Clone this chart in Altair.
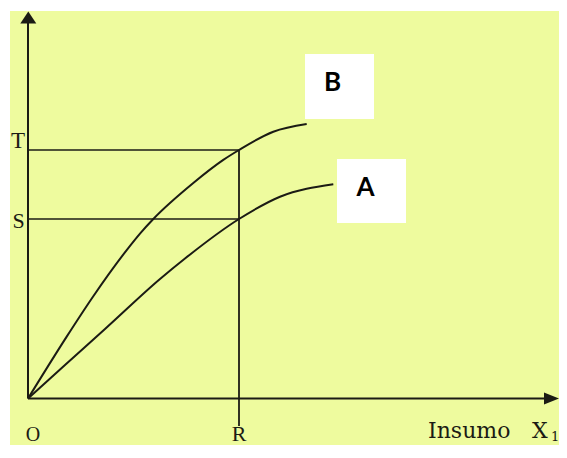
import altair as alt
import pandas as pd

# ---- data (units: tenths of a pixel-grid measured from origin O) ----
curve_b_x = [0.0, 3.87, 6.53, 9.87, 11.2, 12.53, 16.53, 19.53, 21.1, 24.53, 27.87]
curve_b_y = [0.0, 6.19, 10.23, 14.84, 16.49, 17.95, 21.55, 23.86, 24.85, 26.68, 27.45]
curve_a_x = [0.0, 3.7, 7.7, 13.2, 15.7, 21.1, 25.2, 30.53]
curve_a_y = [0.0, 3.35, 6.95, 11.95, 14.0, 17.95, 20.18, 21.42]

R_VAL = 21.1
T_VAL = 24.85
S_VAL = 17.95

tick_labels = ["T", "S", "R"]
tick_label_x = [-1.0, -0.95, R_VAL]
tick_label_y = [25.02, 17.05, -4.2]
tick_label_size = [23, 22, 22]

origin_label = ["O"]
origin_x = [0.5]
origin_y = [-4.2]

axis_title = ["Insumo", "X", "1"]
axis_title_x = [40.0, 50.4, 52.3]
axis_title_y = [-3.98, -3.98, -4.2]
axis_title_size = [22, 22, 13]

box_names = ["B", "A"]
box_x1 = [27.7, 30.9]
box_x2 = [34.6, 37.8]
box_y1 = [27.95, 17.55]
box_y2 = [34.45, 23.95]
box_label_x = [30.45, 33.75]
box_label_y = [31.57, 21.1]

# guide segments: axes and the R / T / S reference lines
seg_x1 = [0.0, 0.0, 0.0, 0.0, R_VAL]
seg_y1 = [0.0, 0.0, T_VAL, S_VAL, T_VAL]
seg_x2 = [51.7, 0.0, R_VAL, R_VAL, R_VAL]
seg_y2 = [0.0, 37.6, T_VAL, S_VAL, -2.75]
seg_w = [2.0, 2.0, 1.6, 1.6, 1.8]

# arrow heads
arrow_up_x, arrow_up_y = [0.03], [38.1]
arrow_right_x, arrow_right_y = [52.35], [0.0]

INK = "#1b1b14"
BG = "#EEFB9E"

curves = pd.DataFrame(
    [{"s": "B", "x": x, "y": y, "o": i} for i, (x, y) in enumerate(zip(curve_b_x, curve_b_y))]
    + [{"s": "A", "x": x, "y": y, "o": i} for i, (x, y) in enumerate(zip(curve_a_x, curve_a_y))]
)
segs = pd.DataFrame({"x": seg_x1, "y": seg_y1, "x2": seg_x2, "y2": seg_y2, "w": seg_w})
boxes = pd.DataFrame({"n": box_names, "x": box_x1, "x2": box_x2, "y": box_y1, "y2": box_y2,
                      "lx": box_label_x, "ly": box_label_y})
ticks = pd.DataFrame({"t": tick_labels, "x": tick_label_x, "y": tick_label_y, "sz": tick_label_size})
orig = pd.DataFrame({"t": origin_label, "x": origin_x, "y": origin_y})
title = pd.DataFrame({"t": axis_title, "x": axis_title_x, "y": axis_title_y, "sz": axis_title_size})
up = pd.DataFrame({"x": arrow_up_x, "y": arrow_up_y})
right = pd.DataFrame({"x": arrow_right_x, "y": arrow_right_y})

xs = alt.Scale(domain=[-1.8, 53.1], nice=False, zero=False)
ys = alt.Scale(domain=[-4.65, 38.75], nice=False, zero=False)
X = lambda f: alt.X(f, type="quantitative", scale=xs, axis=None)
Y = lambda f: alt.Y(f, type="quantitative", scale=ys, axis=None)

seg_layer = alt.Chart(segs).mark_rule(color=INK, clip=False).encode(
    x=X("x"), y=Y("y"), x2="x2", y2="y2",
    strokeWidth=alt.StrokeWidth("w:Q", scale=None),
)

curve_layer = alt.Chart(curves).mark_line(color=INK, strokeWidth=2.0, interpolate="monotone").encode(
    x=X("x"), y=Y("y"), detail="s:N", order="o:Q",
)

up_layer = alt.Chart(up).mark_point(
    shape="M0,-0.75L1,0.75L-1,0.75Z", size=256, filled=True, color=INK, opacity=1
).encode(x=X("x"), y=Y("y"))

right_layer = alt.Chart(right).mark_point(
    shape="M1,0L-1,0.8L-1,-0.8Z", size=225, filled=True, color=INK, opacity=1
).encode(x=X("x"), y=Y("y"))

box_layer = alt.Chart(boxes).mark_rect(color="white").encode(
    x=X("x"), x2="x2", y=Y("y"), y2="y2",
)
box_text = alt.Chart(boxes).mark_text(
    font="Lato", fontWeight="bold", fontSize=26, color="black", baseline="middle", align="center"
).encode(x=X("lx"), y=Y("ly"), text="n:N")

tick_text = alt.Chart(ticks).mark_text(
    font="Liberation Serif", color=INK, baseline="alphabetic", align="center"
).encode(x=X("x"), y=Y("y"), text="t:N", size=alt.Size("sz:Q", scale=None))

orig_text = alt.Chart(orig).mark_text(
    font="Liberation Serif", fontSize=20, color=INK, baseline="alphabetic", align="center"
).encode(x=X("x"), y=Y("y"), text="t:N")

title_text = alt.Chart(title).mark_text(
    font="DejaVu Serif", color=INK, baseline="alphabetic", align="left"
).encode(x=X("x"), y=Y("y"), text="t:N", size=alt.Size("sz:Q", scale=None))

chart = alt.layer(
    box_layer, seg_layer, curve_layer, up_layer, right_layer,
    box_text, tick_text, orig_text, title_text,
).properties(
    width=549, height=434,
    autosize=alt.AutoSizeParams(type="none"),
    padding={"left": 2, "top": 3, "right": 0, "bottom": 0},
    background="white",
).configure_view(fill=BG, strokeWidth=0)

chart.save("out.html", embed_options={"renderer": "svg", "actions": False})
